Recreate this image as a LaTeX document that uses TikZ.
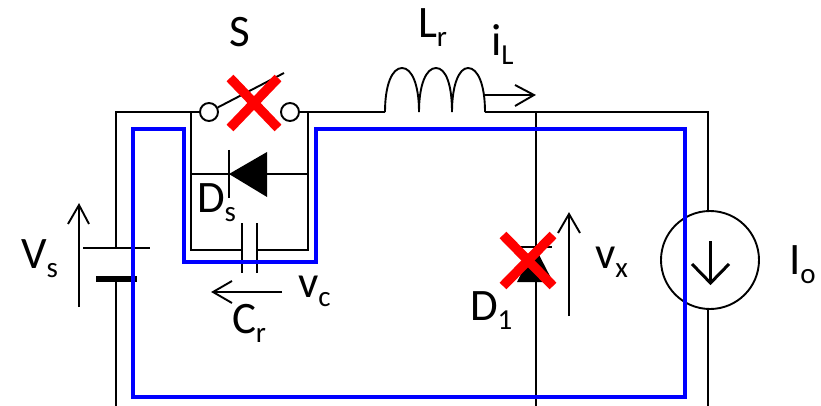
\documentclass[tikz,border=0pt]{standalone}
\usepackage{fontspec}
\setmainfont{Carlito}
\definecolor{pathblue}{RGB}{0,0,255}
\definecolor{xred}{RGB}{255,0,0}
\newcommand{\lab}[2]{\fontsize{45}{45}\selectfont #1\raisebox{-9pt}{\fontsize{29}{29}\selectfont #2}}
\tikzset{
  wire/.style={draw=black,line width=1.9pt},
  bluepath/.style={draw=pathblue,line width=4.4pt,line join=miter},
  cross/.style={draw=xred,line width=9.5pt},
  vee/.style={draw=black,line width=1.9pt,line join=miter},
  term/.style={circle,draw=black,line width=1.9pt,fill=white,minimum size=18pt,inner sep=0pt},
  src/.style={circle,draw=black,line width=1.9pt,minimum size=98pt,inner sep=0pt},
  txt/.style={anchor=base west,inner sep=0pt,outer sep=0pt,text=black}
}
\begin{document}
\begin{tikzpicture}[x=1pt,y=-1pt]
\useasboundingbox (0,0) rectangle (821,406);
% junctions and free ends
\coordinate (tl) at (116,112);
\coordinate (bp) at (116,248);
\coordinate (bn) at (116,279);
\coordinate (bl) at (116,406);
\coordinate (pa) at (191,112);
\coordinate (pb) at (308,112);
\coordinate (da) at (191,174);
\coordinate (db) at (308,174);
\coordinate (ca) at (191,250);
\coordinate (cb) at (308,250);
\coordinate (dk) at (229,174);
\coordinate (dA) at (267,174);
\coordinate (c1) at (242,250);
\coordinate (c2) at (257,250);
\coordinate (la) at (385,112);
\coordinate (lb) at (485,112);
\coordinate (mt) at (536,112);
\coordinate (mb) at (536,406);
\coordinate (tr) at (708,112);
\coordinate (br) at (708,406);
\node[term] (s1) at (209,112) {};
\node[term] (s2) at (290,112) {};
\node[src] (io) at (710,260) {};
% main wiring
\draw[wire] (bn) -- (bl);
\draw[wire] (bp) -- (tl) -- (s1);
\draw[wire] (s2) -- (la);
\draw[wire] (lb) -- (tr) -- (tr |- io.north);
\draw[wire] (tr |- io.south) -- (br);
\draw[wire] (mt) -- (mb);
\draw[wire] (pa) -- (ca) -- (c1);
\draw[wire] (pb) -- (cb) -- (c2);
\draw[wire] (da) -- (dk);
\draw[wire] (dA) -- (db);
% switch lever
\draw[wire] (s1) -- (284,73);
% battery
\draw[wire] (83,248) -- (150,248);
\draw[draw=black,line width=6pt] (96,279) -- (137,279);
% inductor
\draw[wire] (la) .. controls (385,85) and (392,68) .. (402,68) .. controls (412,68) and (419,85) .. (419,112)
  .. controls (419,85) and (426,68) .. (436,68) .. controls (446,68) and (452,85) .. (452,112)
  .. controls (452,85) and (459,68) .. (468,68) .. controls (478,68) and (485,85) .. (lb);
% diode Ds
\draw[wire] (229,150) -- (229,198);
\fill[black] (dk) -- (267,152) -- (267,197) -- cycle;
% capacitor
\draw[wire] (242,223) -- (242,273);
\draw[wire] (257,223) -- (257,273);
% diode D1
\draw[wire] (515,247) -- (552,247);
\fill[black] (535,247) -- (517,282) -- (553,282) -- cycle;
% blue current path
\draw[bluepath] (133,397) -- (133,129) -- (184,129) -- (184,262) -- (316,262) -- (316,129) -- (685,129) -- (685,397) -- cycle;
% voltage and current arrows
\draw[vee] (79,307) -- (79,205);
\draw[vee] (68,224) -- (79,205) -- (89,224);
\draw[vee] (569,316) -- (569,214);
\draw[vee] (558,233) -- (569,214) -- (580,233);
\draw[vee] (282,292) -- (213,292);
\draw[vee] (232,281) -- (213,292) -- (232,303);
\draw[vee] (485,95) -- (534,95);
\draw[vee] (515,85) -- (534,95) -- (515,106);
\draw[vee,line width=3pt] (710.5,241) -- (710.5,283);
\draw[vee,line width=3pt] (692,264) -- (710.5,283) -- (729,264);
% red crosses
\draw[cross] (230,78) -- (278,128);
\draw[cross] (230,128) -- (278,78);
\draw[cross] (503,235) -- (553,286);
\draw[cross] (503,286) -- (553,235);
% labels
\node[txt] (tS) at (229,47) {\lab{S}{}};
\node[txt] (tL) at (418,38) {\lab{L}{r}};
\node[txt] (tI) at (491,56) {\lab{i}{L}};
\node[txt] (tD) at (197,212) {\lab{D}{s}};
\node[txt] (tV) at (21,268) {\lab{V}{s}};
\node[txt] (tv) at (298,297) {\lab{v}{c}};
\node[txt] (tC) at (232,333) {\lab{C}{r}};
\node[txt] (tO) at (470,320) {\lab{D}{1}};
\node[txt] (tX) at (595,268) {\lab{v}{x}};
\node[txt] (tG) at (789,274) {\lab{I}{o}};
\end{tikzpicture}
\end{document}
